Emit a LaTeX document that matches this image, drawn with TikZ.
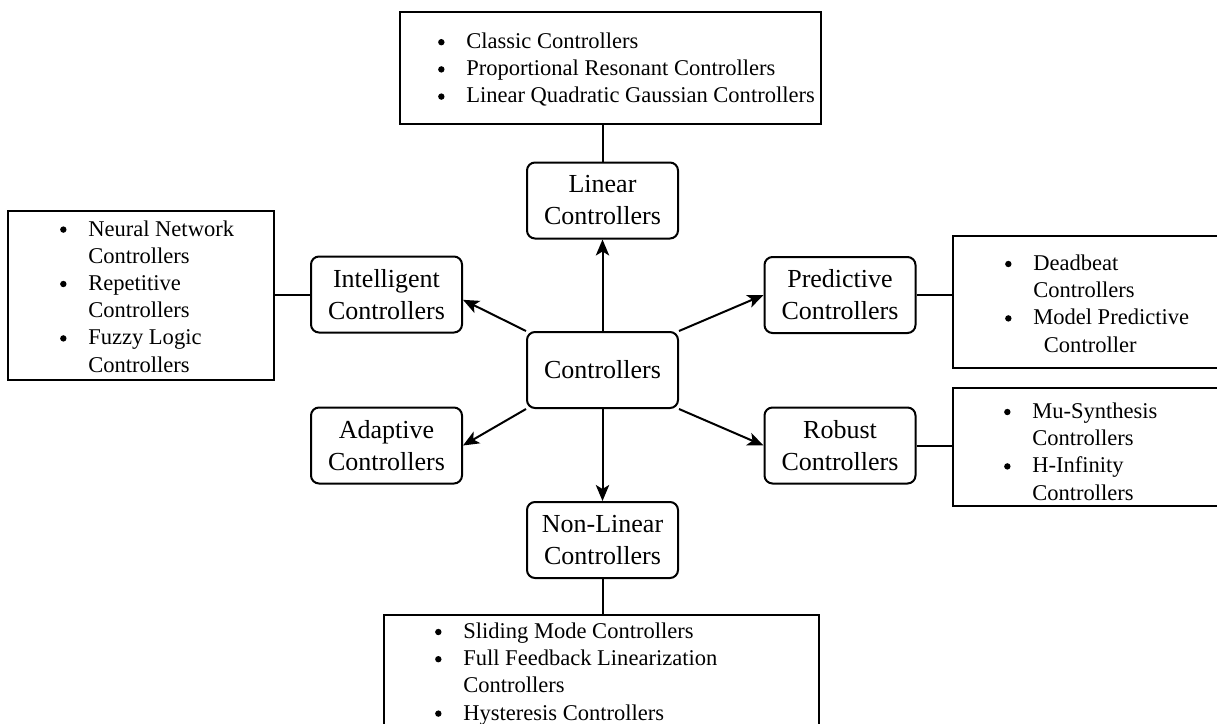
\documentclass[tikz,border=0pt]{standalone}
\usepackage{fontspec}
\setmainfont{Liberation Serif}
\usetikzlibrary{arrows.meta}

% round bullet hung to the left of a list line
\newcommand\bdot{\tikz[baseline=0pt]{\fill (0,4.8pt) circle (2.4pt);}}
\newcommand\bl{\llap{\bdot\hspace{16.3pt}}}

\tikzset{
  ctrlbox/.style={draw, line width=1.5pt, rounded corners=6pt, align=center,
    minimum width=113.25pt, minimum height=57pt, inner sep=0pt,
    font=\fontsize{19.5}{24}\selectfont},
  listbox/.style={draw, line width=1.5pt, rectangle, inner sep=0pt},
  % base anchor of a multi-line node sits on its last line
  listtxt/.style={anchor=base west, align=left, inner sep=0pt,
    font=\fontsize{16.9}{20.4}\selectfont},
  link/.style={line width=1.5pt},
  branch/.style={line width=1.5pt, -{Stealth[length=12pt,width=10pt,inset=3pt]}},
}

\begin{document}
\begin{tikzpicture}[x=0.75pt,y=-0.75pt]
\useasboundingbox (0,0) rectangle (1217,724);
\clip (0,0) rectangle (1217,724);
\fill[white] (0,0) rectangle (1217,724);

% controller families
\node[ctrlbox] (c)     at (602.5,370)   {Controllers};
\node[ctrlbox] (lin)   at (602.5,200.5) {Linear\\Controllers};
\node[ctrlbox] (nl)    at (602.5,540)   {Non-Linear\\Controllers};
\node[ctrlbox] (intel) at (386.5,294.5) {Intelligent\\Controllers};
\node[ctrlbox] (adapt) at (386.5,445.5) {Adaptive\\Controllers};
\node[ctrlbox] (pred)  at (840,295)     {Predictive\\Controllers};
\node[ctrlbox] (rob)   at (840,445.5)   {Robust\\Controllers};

% example lists
\node[listbox, minimum width=315.75pt, minimum height=84pt]    (topbox) at (610.5,68)   {};
\node[listbox, minimum width=199.5pt,  minimum height=126.75pt] (leftbox) at (141,295.5) {};
\node[listbox, minimum width=215.25pt, minimum height=99pt]    (predbox) at (1096.5,302) {};
\node[listbox, minimum width=215.25pt, minimum height=88.5pt]  (robbox) at (1096.5,447) {};
\node[listbox, minimum width=326.25pt, minimum height=108.75pt] (botbox) at (601.5,687.5) {};

\node[listtxt] (toptxt) at (466,103)
  {\bl Classic Controllers\\
   \bl Proportional Resonant Controllers\\
   \bl Linear Quadratic Gaussian Controllers};
\node[listtxt] (lefttxt) at (88,372)
  {\bl Neural Network\\ Controllers\\
   \bl Repetitive\\ Controllers\\
   \bl Fuzzy Logic\\ Controllers};
\node[listtxt] (predtxt) at (1033,352)
  {\bl Deadbeat\\ Controllers\\
   \bl Model Predictive\\ \hspace{8pt}Controller};
\node[listtxt] (robtxt) at (1032,500)
  {\bl Mu-Synthesis\\ Controllers\\
   \bl H-Infinity\\ Controllers};
\node[listtxt] (bottxt) at (463,720)
  {\bl Sliding Mode Controllers\\
   \bl Full Feedback Linearization\\ Controllers\\
   \bl Hysteresis Controllers};

% links to the lists
\draw[link] (lin.north)  -- (lin.north |- topbox.south);
\draw[link] (nl.south)   -- (nl.south |- botbox.north);
\draw[link] (intel.west) -- (intel.west -| leftbox.east);
\draw[link] (pred.east)  -- (pred.east -| predbox.west);
\draw[link] (rob.east)   -- (rob.east -| robbox.west);

% branches from the root
\draw[branch] (c.north)      -- (lin.south);
\draw[branch] (c.south)      -- (nl.north);
\draw[branch] (c.north west) -- ([yshift=-4pt]intel.east);
\draw[branch] (c.south west) -- (adapt.east);
\draw[branch] (c.north east) -- (pred.west);
\draw[branch] (c.south east) -- (rob.west);
\end{tikzpicture}
\end{document}
